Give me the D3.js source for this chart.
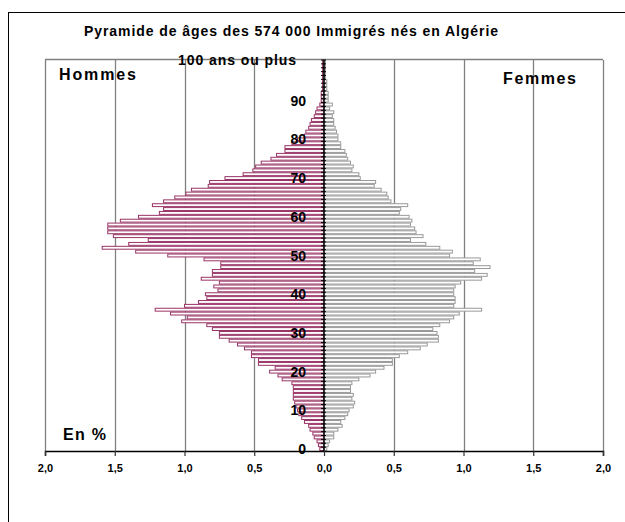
<!DOCTYPE html>
<html>
<head>
<meta charset="utf-8">
<script src="https://cdn.jsdelivr.net/npm/d3@7"></script>
<style>
  body { margin: 0; background: #fff; }
  text { font-family: "Liberation Sans", Arial, sans-serif; font-weight: bold; fill: #000; }
</style>
</head>
<body>
<script>
// ages 0 .. 100 (100 = "100 ans ou plus")
var ages = d3.range(0, 101);

// % of the 574 000 immigrants, men (left) and women (right), age 0 first
var hommes = [
  0.03, 0.04, 0.05, 0.07, 0.08, 0.10, 0.11, 0.14, 0.16, 0.18,
  0.19, 0.20, 0.21, 0.22, 0.22, 0.22, 0.22, 0.23, 0.30, 0.33,
  0.39, 0.35, 0.47, 0.47, 0.52, 0.52, 0.57, 0.62, 0.68, 0.75,
  0.75, 0.80, 0.84, 1.02, 0.98, 1.10, 1.21, 1.00, 0.90, 0.84,
  0.85, 0.76, 0.79, 0.75, 0.88, 0.80, 0.80, 0.74, 0.74, 0.86,
  1.12, 1.35, 1.59, 1.40, 1.26, 1.51, 1.55, 1.55, 1.55, 1.46,
  1.33, 1.18, 1.15, 1.23, 1.15, 1.07, 0.99, 0.95, 0.83, 0.82,
  0.71, 0.58, 0.51, 0.49, 0.45, 0.38, 0.34, 0.28, 0.28, 0.23,
  0.19, 0.14, 0.13, 0.11, 0.10, 0.09, 0.07, 0.06, 0.05, 0.03,
  0.02, 0.02, 0.02, 0.01, 0.01, 0.01, 0.01, 0.01, 0.01, 0.01,
  0.01
];

var femmes = [
  0.02, 0.03, 0.04, 0.07, 0.07, 0.10, 0.13, 0.12, 0.15, 0.17,
  0.18, 0.21, 0.22, 0.20, 0.21, 0.19, 0.19, 0.20, 0.25, 0.33,
  0.37, 0.43, 0.49, 0.49, 0.54, 0.60, 0.69, 0.74, 0.82, 0.82,
  0.81, 0.78, 0.83, 0.90, 0.93, 0.97, 1.13, 0.93, 0.94, 0.94,
  0.93, 0.93, 0.94, 0.98, 1.13, 1.17, 1.08, 1.19, 1.07, 1.12,
  0.90, 0.92, 0.83, 0.73, 0.62, 0.71, 0.66, 0.65, 0.62, 0.63,
  0.61, 0.54, 0.55, 0.60, 0.48, 0.46, 0.45, 0.41, 0.36, 0.37,
  0.26, 0.25, 0.20, 0.21, 0.19, 0.17, 0.16, 0.15, 0.12, 0.12,
  0.10, 0.10, 0.09, 0.08, 0.07, 0.07, 0.06, 0.07, 0.04, 0.06,
  0.03, 0.03, 0.03, 0.02, 0.02, 0.02, 0.01, 0.01, 0.01, 0.01,
  0.01
];

var xTicks = [-2, -1.5, -1, -0.5, 0, 0.5, 1, 1.5, 2];
var ageTicks = [0, 10, 20, 30, 40, 50, 60, 70, 80, 90];

var width = 625,
    height = 522;

var svg = d3.select("body").append("svg")
    .attr("width", width)
    .attr("height", height)
    .style("display", "block");

// outer frame
svg.append("rect")
    .attr("x", 8.5)
    .attr("y", 12.5)
    .attr("width", 700)
    .attr("height", 600)
    .style("fill", "none")
    .style("stroke", "#000")
    .style("stroke-width", "1");

var x = d3.scaleLinear()
    .domain([-2, 2])
    .range([45, 603]);

var y = d3.scaleBand()
    .domain(ages)
    .range([451, 60])
    .padding(0);

var comma = function(d) { return d3.format(".1f")(Math.abs(d)).replace(".", ","); };

// gridlines + plot top
svg.append("g")
    .selectAll("line")
    .data(xTicks.filter(function(d) { return d != 0; }))
    .enter().append("line")
    .attr("x1", function(d) { return Math.round(x(d)) + 0.5; })
    .attr("x2", function(d) { return Math.round(x(d)) + 0.5; })
    .attr("y1", 60)
    .attr("y2", 451)
    .attr("stroke", "#808080")
    .attr("stroke-width", 1.3);

svg.append("line")
    .attr("x1", x(-2)).attr("x2", x(2))
    .attr("y1", 59.5).attr("y2", 59.5)
    .attr("stroke", "#808080")
    .attr("stroke-width", 1.3);

// hommes
svg.append("g")
    .selectAll("rect")
    .data(ages)
    .enter().append("rect")
    .attr("x", function(d) { return x(-hommes[d]); })
    .attr("width", function(d) { return x(0) - x(-hommes[d]); })
    .attr("y", function(d) { return y(d) + 0.5; })
    .attr("height", y.bandwidth() - 1)
    .attr("fill", "#fff")
    .attr("stroke", "#993366")
    .attr("stroke-width", 1);

// femmes
svg.append("g")
    .selectAll("rect")
    .data(ages)
    .enter().append("rect")
    .attr("x", x(0))
    .attr("width", function(d) { return x(femmes[d]) - x(0); })
    .attr("y", function(d) { return y(d) + 0.5; })
    .attr("height", y.bandwidth() - 1)
    .attr("fill", "#fff")
    .attr("stroke", "#999999")
    .attr("stroke-width", 1);

// central axis with a tick per year
var yAxis = svg.append("g")
    .attr("transform", "translate(" + Math.round(x(0)) + ",0)");

yAxis.append("line")
    .attr("y1", 60).attr("y2", 451)
    .attr("stroke", "#000")
    .attr("stroke-width", 1.5);

yAxis.selectAll("line.tick")
    .data(ages)
    .enter().append("line")
    .attr("class", "tick")
    .attr("x1", -3).attr("x2", 2)
    .attr("y1", function(d) { return y(d); })
    .attr("y2", function(d) { return y(d); })
    .attr("stroke", "#000")
    .attr("stroke-width", 1);

// bottom axis
var xAxis = svg.append("g")
    .attr("transform", "translate(0,451)")
    .call(d3.axisBottom(x)
        .tickValues(xTicks)
        .tickSize(5)
        .tickPadding(8)
        .tickFormat(comma));

xAxis.select(".domain")
    .attr("stroke", "#000")
    .attr("stroke-width", 1.5);
xAxis.selectAll(".tick line")
    .attr("stroke", "#333")
    .attr("stroke-width", 1.2);
xAxis.selectAll("text")
    .style("font-family", "'Liberation Sans', Arial, sans-serif")
    .style("font-weight", "bold")
    .style("font-size", "11px");

// age labels
svg.append("g")
    .selectAll("text")
    .data(ageTicks)
    .enter().append("text")
    .attr("x", 306)
    .attr("y", function(d) { return y(d) + y.bandwidth() / 2; })
    .attr("dy", "0.36em")
    .attr("text-anchor", "end")
    .style("font-size", "14px")
    .text(function(d) { return d; });

svg.append("text")
    .attr("x", 178)
    .attr("y", 65)
    .attr("textLength", 118)
    .style("font-size", "14px")
    .text("100 ans ou plus");

// titles
svg.append("text")
    .attr("x", 84)
    .attr("y", 36)
    .attr("textLength", 414)
    .style("font-size", "14px")
    .text("Pyramide de âges des 574 000 Immigrés nés en Algérie");

svg.append("text")
    .attr("x", 59)
    .attr("y", 80)
    .attr("textLength", 77)
    .style("font-size", "16px")
    .text("Hommes");

svg.append("text")
    .attr("x", 503)
    .attr("y", 84)
    .attr("textLength", 73)
    .style("font-size", "16px")
    .text("Femmes");

svg.append("text")
    .attr("x", 63)
    .attr("y", 440)
    .attr("textLength", 43)
    .style("font-size", "16px")
    .text("En %");
</script>
</body>
</html>
